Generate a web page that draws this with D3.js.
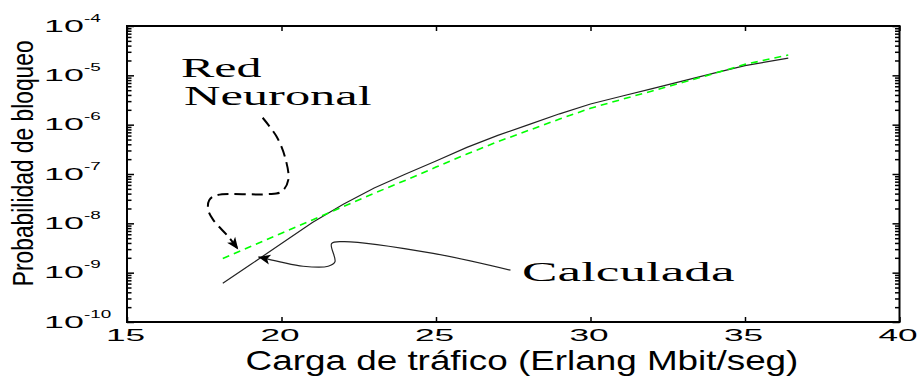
<!DOCTYPE html>
<html>
<head>
<meta charset="utf-8">
<script src="https://cdn.jsdelivr.net/npm/d3@7"></script>
<style>
  body { margin: 0; background: #fff; }
  svg { display: block; }
  .sans { font-family: "Liberation Sans", Arial, sans-serif; }
  .serif { font-family: "Liberation Serif", "Times New Roman", serif; }
</style>
</head>
<body>
<div class="canvas"></div>
<script>
// data
const load = [18.1, 19, 20, 21, 22, 23, 24, 25, 26, 27, 28, 29, 30, 31, 32, 33, 34, 35, 36.4]
const calculada = [6.08e-10, 1.46e-9, 3.90e-9, 1.04e-8, 2.44e-8, 5.20e-8, 9.86e-8, 1.84e-7, 3.46e-7, 6.05e-7,
  1.00e-6, 1.66e-6, 2.62e-6, 3.76e-6, 5.38e-6, 7.74e-6, 1.11e-5, 1.57e-5, 2.24e-5]
const redNeuronal = [1.94e-9, 3.39e-9, 6.31e-9, 1.17e-8, 2.18e-8, 4.07e-8, 7.41e-8, 1.38e-7, 2.54e-7, 4.52e-7,
  7.66e-7, 1.30e-6, 2.15e-6, 3.24e-6, 4.83e-6, 7.23e-6, 1.09e-5, 1.67e-5, 2.58e-5]

const xTicks = [15, 20, 25, 30, 35, 40]
const yExponents = [-10, -9, -8, -7, -6, -5, -4]

// annotation arrows, [load, log10 prob]
const redArrow = [[19.39, -5.86], [19.84, -6.24], [20.11, -6.65], [20.22, -7.12], [20.0, -7.36], [19.52, -7.41],
  [17.9, -7.43], [17.66, -7.53], [17.63, -7.73], [17.79, -7.93], [18.28, -8.27], [18.6, -8.53]]
const calcArrow = [[27.41, -8.95], [24.91, -8.61], [22.0, -8.37], [21.62, -8.41], [21.73, -8.78], [21.51, -8.87],
  [20.7, -8.87], [19.95, -8.78], [19.25, -8.68]]

const dims = { width: 920, height: 376 }
const plot = { left: 127, right: 899.5, top: 26, bottom: 322 }

const svg = d3.select('.canvas').append('svg')
  .attr('width', dims.width)
  .attr('height', dims.height)

const x = d3.scaleLinear().domain([15, 40]).range([plot.left, plot.right])
const y = d3.scaleLog().domain([1e-10, 1e-4]).range([plot.bottom, plot.top])

const majorY = yExponents.map(e => Math.pow(10, e))
const minorY = []
yExponents.slice(0, -1).forEach(e => {
  for (let m = 2; m <= 9; m++) minorY.push(m * Math.pow(10, e))
})

// ticks (all pointing inward)
const axes = svg.append('g').attr('class', 'axes')
const styleAxis = g => {
  g.select('.domain').remove()
  g.selectAll('line').attr('stroke', '#000').attr('stroke-width', 1.5)
}

axes.append('g').attr('transform', `translate(0, ${plot.bottom})`)
  .call(d3.axisBottom(x).tickValues(xTicks).tickSize(-5).tickFormat(''))
  .call(styleAxis)
axes.append('g').attr('transform', `translate(0, ${plot.top})`)
  .call(d3.axisTop(x).tickValues(xTicks).tickSize(-5).tickFormat(''))
  .call(styleAxis)
axes.append('g').attr('transform', `translate(${plot.left}, 0)`)
  .call(d3.axisLeft(y).tickValues(majorY).tickSize(-7).tickFormat(''))
  .call(styleAxis)
axes.append('g').attr('transform', `translate(${plot.left}, 0)`)
  .call(d3.axisLeft(y).tickValues(minorY).tickSize(-4.5).tickFormat(''))
  .call(styleAxis)
axes.append('g').attr('transform', `translate(${plot.right}, 0)`)
  .call(d3.axisRight(y).tickValues(majorY).tickSize(-7).tickFormat(''))
  .call(styleAxis)
axes.append('g').attr('transform', `translate(${plot.right}, 0)`)
  .call(d3.axisRight(y).tickValues(minorY).tickSize(-4.5).tickFormat(''))
  .call(styleAxis)

// frame
svg.append('rect')
  .attr('x', plot.left).attr('y', plot.top)
  .attr('width', plot.right - plot.left).attr('height', plot.bottom - plot.top)
  .attr('fill', 'none').attr('stroke', '#000').attr('stroke-width', 2)

// x tick labels
svg.selectAll('.xlabel')
  .data(xTicks)
  .enter().append('text')
  .attr('class', 'xlabel sans')
  .attr('transform', d => `translate(${x(d) - 1.5}, 340.5) scale(2.2, 1)`)
  .attr('text-anchor', 'middle')
  .attr('font-size', 16)
  .text(d => d)

// y tick labels 10^e
const yl = svg.selectAll('.ylabel')
  .data(yExponents)
  .enter().append('g')
  .attr('class', 'ylabel sans')

yl.append('text')
  .attr('transform', d => `translate(44, ${y(Math.pow(10, d)) + 5.8}) scale(2.2, 1)`)
  .attr('font-size', 16.3)
  .text('10')

yl.append('text')
  .attr('transform', d => `translate(84, ${y(Math.pow(10, d)) - 4.4}) scale(1.8, 1)`)
  .attr('font-size', 10.5)
  .text(d => '-' + Math.abs(d))

// axis titles
svg.append('text')
  .attr('class', 'sans')
  .attr('transform', 'translate(522, 370) scale(1.34, 1)')
  .attr('text-anchor', 'middle')
  .attr('font-size', 27.5)
  .text('Carga de tráfico (Erlang Mbit/seg)')

svg.append('text')
  .attr('class', 'sans')
  .attr('transform', 'translate(33, 163.3) rotate(-90) scale(0.76, 1)')
  .attr('text-anchor', 'middle')
  .attr('font-size', 30)
  .text('Probabilidad de bloqueo')

// series
const line = d3.line()
  .x((d, i) => x(load[i]))
  .y(d => y(d))

svg.append('path')
  .datum(calculada)
  .attr('d', line)
  .attr('fill', 'none')
  .attr('stroke', '#222')
  .attr('stroke-width', 1.2)

svg.append('path')
  .datum(redNeuronal)
  .attr('d', line)
  .attr('fill', 'none')
  .attr('stroke', '#00ff00')
  .attr('stroke-width', 1.6)
  .attr('stroke-dasharray', '7,5')

// arrowheads
const defs = svg.append('defs')
defs.append('marker')
  .attr('id', 'head')
  .attr('markerUnits', 'userSpaceOnUse')
  .attr('viewBox', '-13 -6 14 12')
  .attr('refX', 0).attr('refY', 0)
  .attr('markerWidth', 14).attr('markerHeight', 12)
  .attr('orient', 'auto')
  .append('path')
  .attr('d', 'M0,0 L-12,-5 L-9,0 L-12,5 Z')
  .attr('fill', '#000')

const annoLine = d3.line()
  .x(d => x(d[0]))
  .y(d => y(Math.pow(10, d[1])))
  .curve(d3.curveCatmullRom.alpha(0.5))

svg.append('path')
  .datum(redArrow)
  .attr('d', annoLine)
  .attr('fill', 'none')
  .attr('stroke', '#000')
  .attr('stroke-width', 2)
  .attr('stroke-dasharray', '11,6')
  .attr('marker-end', 'url(#head)')

svg.append('path')
  .datum(calcArrow)
  .attr('d', annoLine)
  .attr('fill', 'none')
  .attr('stroke', '#222')
  .attr('stroke-width', 1.2)
  .attr('marker-end', 'url(#head)')

// annotation labels
const note = (txt, px, py, sx) => svg.append('text')
  .attr('class', 'serif')
  .attr('transform', `translate(${px}, ${py}) scale(${sx}, 1)`)
  .attr('font-size', 27)
  .text(txt)

note('Red', 181, 76.7, 1.85)
note('Neuronal', 184, 105, 1.87)
note('Calculada', 522, 281, 1.97)
</script>
</body>
</html>
